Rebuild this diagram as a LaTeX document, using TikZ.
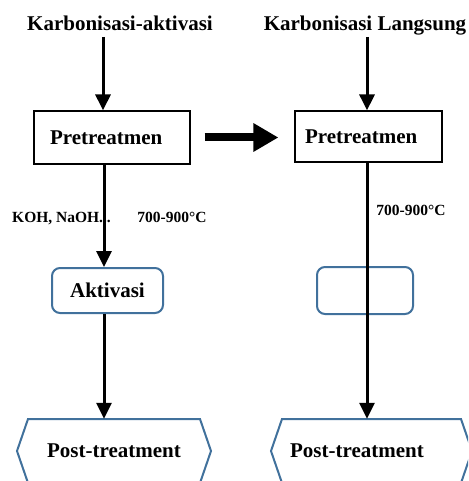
\documentclass[tikz,border=0pt]{standalone}
\usepackage{fontspec}
\setmainfont{Liberation Serif}
\usetikzlibrary{arrows.meta,calc}
\definecolor{boxblue}{RGB}{65,113,156}

\begin{document}
\begin{tikzpicture}[x=1pt,y=-1pt]

\tikzstyle{title}=[font=\fontsize{21}{24}\selectfont\bfseries, inner sep=0pt, anchor=base]
\tikzstyle{label}=[font=\fontsize{15.5}{18}\selectfont\bfseries, inner sep=0pt, anchor=base]
\tikzstyle{box1}=[rectangle, draw, line width=1.2pt, inner sep=0pt, font=\fontsize{21}{24}\selectfont\bfseries]
\tikzstyle{box2}=[rectangle, draw=boxblue, line width=2pt, rounded corners=8pt, inner sep=0pt, font=\fontsize{21}{24}\selectfont\bfseries]
\tikzstyle{post}=[rectangle, minimum height=64pt, inner sep=0pt, font=\fontsize{21}{24}\selectfont\bfseries]
\tikzstyle{hexline}=[draw=boxblue, line width=2pt, line join=miter]
\tikzstyle{arrow}=[-{Triangle[length=16pt,width=15pt]}, line width=3pt]
\tikzstyle{bigarrow}=[-{Triangle[length=25pt,width=27pt]}, line width=8pt]

\useasboundingbox (0,0) rectangle (468,481);
\clip (0,0) rectangle (468,481);

% titles
\node (titleL) [title] at (120,31) {Karbonisasi-aktivasi};
\node (titleR) [title] at (365,31) {Karbonisasi Langsung};

% boxes
\node (preL) [box1, minimum width=156pt, minimum height=53pt, text width=124pt] at (112,137.5) {Pretreatmen};
\node (preR) [box1, minimum width=147pt, minimum height=51pt, text width=127pt] at (368.5,136.5) {Pretreatmen};
\node (aktL) [box2, minimum width=111pt, minimum height=45pt] at (107.5,290.5) {Aktivasi};
\node (aktR) [box2, minimum width=96pt, minimum height=47pt] at (365,290.5) {};
\node (postL) [post] at (114,451) {Post-treatment};
\node (postR) [post] at (357,451) {Post-treatment};

\draw[hexline] ($(postL)+(-86,-32)$) -- ($(postL)+(86,-32)$) -- ($(postL)+(97,0)$)
  -- ($(postL)+(86,32)$) -- ($(postL)+(-86,32)$) -- ($(postL)+(-97,0)$) -- cycle;
\draw[hexline] ($(postR)+(-75,-32)$) -- ($(postR)+(104,-32)$) -- ($(postR)+(115,0)$)
  -- ($(postR)+(104,32)$) -- ($(postR)+(-75,32)$) -- ($(postR)+(-86,0)$) -- cycle;

% labels
\node (chemL) [label] at (61.5,222.5) {KOH, NaOH...};
\node (tempL) [label] at (172,222.5) {700-900°C};
\node (tempR) [label] at (411,215) {700-900°C};

% arrows
\coordinate (topL) at (103,37);
\coordinate (topR) at (367,37);
\coordinate (colL) at (104,0);
\coordinate (colR) at (367,0);

\draw[arrow] (topL) -- (topL |- preL.north);
\draw[arrow] (topR) -- (topR |- preR.north);
\draw[arrow] (colL |- preL.south) -- (colL |- aktL.north);
\draw[arrow] (colL |- aktL.south) -- (colL |- postL.north);
\draw[arrow] (colR |- preR.south) -- (colR |- postR.north);
\draw[bigarrow, shorten <=14pt, shorten >=16pt] (preL.east) -- (preL.east -| preR.west);

\end{tikzpicture}
\end{document}
